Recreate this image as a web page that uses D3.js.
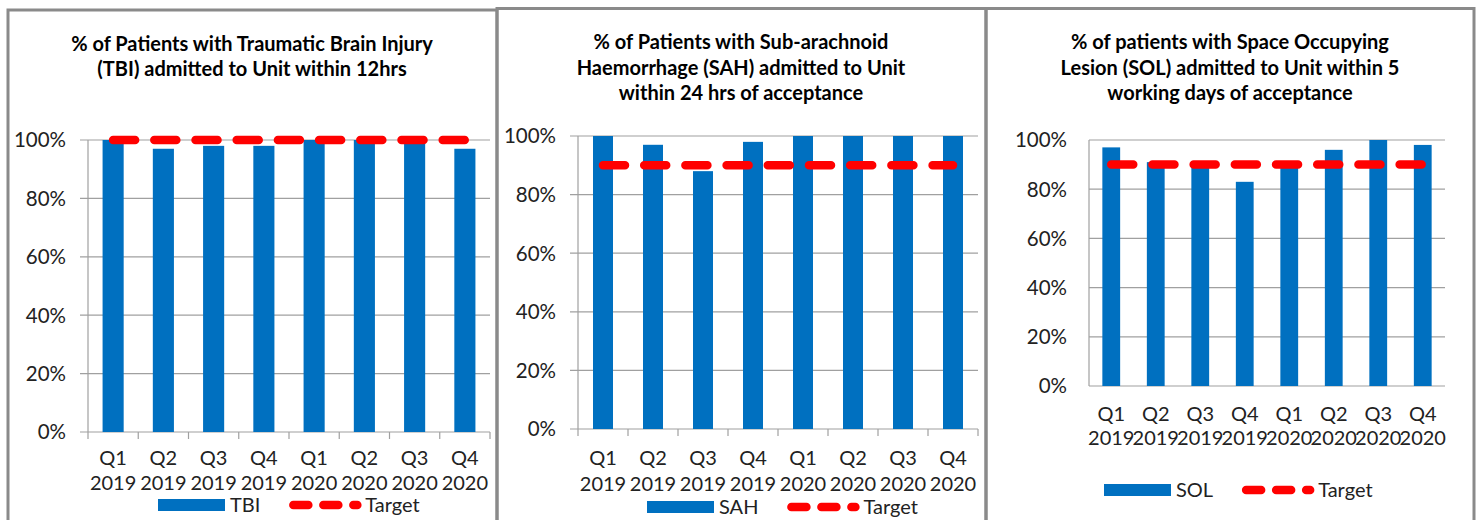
<!DOCTYPE html>
<html>
<head>
<meta charset="utf-8">
<script src="https://cdn.jsdelivr.net/npm/d3@7"></script>
<style>
  html, body { margin: 0; padding: 0; background: #fff; }
  svg { display: block; font-family: Lato, "Liberation Sans", sans-serif; }
</style>
</head>
<body>
<div id="chart"></div>
<script>
// data
const quarters = ["Q1 2019", "Q2 2019", "Q3 2019", "Q4 2019", "Q1 2020", "Q2 2020", "Q3 2020", "Q4 2020"];
const tbiValues = [100, 97, 98, 98, 100, 100, 100, 97];
const sahValues = [100, 97, 88, 98, 100, 100, 100, 100];
const solValues = [97, 91, 91, 83, 90, 96, 100, 98];
const tbiTarget = 100;
const sahTarget = 90;
const solTarget = 90;
const yTicks = [0, 20, 40, 60, 80, 100];
const tbiTitle = ["% of Patients with Traumatic Brain Injury", "(TBI) admitted to Unit within 12hrs"];
const sahTitle = ["% of Patients with Sub-arachnoid", "Haemorrhage (SAH) admitted to Unit", "within 24 hrs of acceptance"];
const solTitle = ["% of patients with Space Occupying", "Lesion (SOL) admitted to Unit within 5", "working days of acceptance"];

const W = 1478, H = 520;
const BLUE = "#0070C0", RED = "#FF0000", GRID = "#A0A0A0", BORDER = "#8A8A8A";
const TICK_FONT = 20, TITLE_FONT = 20, LEGEND_FONT = 20;

const svg = d3.select("#chart").append("svg")
  .attr("width", W).attr("height", H);

// panel frames
const frame = svg.append("g").attr("fill", "none").attr("stroke", BORDER).attr("stroke-width", 3);
frame.append("path").attr("d", "M8,521V10H497V521");
frame.append("path").attr("d", "M497,521V8.5H986V521");
frame.append("path").attr("d", "M986,521V8.5H1474V521");

const panels = [
  { name: "TBI", values: tbiValues, target: tbiTarget, title: tbiTitle,
    cx: 252, titleY: [51, 76], left: 88, right: 490, top: 140, bottom: 432,
    pad: 0.58, ticks: true, labY: [465, 490], legX: 158, legY: 505 },
  { name: "SAH", values: sahValues, target: sahTarget, title: sahTitle,
    cx: 741, titleY: [49, 75, 100], left: 578, right: 978, top: 136, bottom: 429,
    pad: 0.6, ticks: true, labY: [465, 491], legX: 647, legY: 507 },
  { name: "SOL", values: solValues, target: solTarget, title: solTitle,
    cx: 1230, titleY: [49, 75, 100], left: 1089, right: 1445, top: 140, bottom: 386,
    pad: 0.6, ticks: false, labY: [421, 445], legX: 1104, legY: 490 }
];

panels.forEach(p => {
  const g = svg.append("g");

  const x = d3.scaleBand().domain(quarters)
    .range([p.left, p.right]).paddingInner(p.pad).paddingOuter(p.pad / 2);
  const y = d3.scaleLinear().domain([0, 100]).range([p.bottom, p.top]);

  // title
  g.append("text")
    .attr("text-anchor", "middle").attr("font-weight", "bold")
    .attr("font-size", TITLE_FONT).attr("fill", "#000")
    .selectAll("tspan").data(p.title).join("tspan")
    .attr("x", p.cx).attr("y", (d, i) => p.titleY[i]).text(d => d);

  // gridlines + y labels
  const tickLen = p.ticks ? 8 : 0;
  g.append("g").selectAll("line").data(yTicks).join("line")
    .attr("x1", p.left - tickLen).attr("x2", p.right)
    .attr("y1", d => y(d)).attr("y2", d => y(d))
    .attr("stroke", GRID).attr("stroke-width", 1.2);

  g.append("g").selectAll("text").data(yTicks).join("text")
    .attr("x", p.left - 22).attr("y", d => y(d))
    .attr("dy", "0.36em").attr("text-anchor", "end")
    .attr("font-size", TICK_FONT + 0.5).attr("fill", "#222")
    .text(d => d + "%");

  // y axis line
  g.append("line")
    .attr("x1", p.left).attr("x2", p.left).attr("y1", p.top).attr("y2", p.bottom)
    .attr("stroke", GRID).attr("stroke-width", 1.2);

  // x ticks at band boundaries
  if (p.ticks) {
    const step = x.step();
    const bounds = d3.range(quarters.length + 1).map(i => p.left + i * step);
    g.append("g").selectAll("line").data(bounds).join("line")
      .attr("x1", d => d).attr("x2", d => d)
      .attr("y1", p.bottom).attr("y2", p.bottom + 7)
      .attr("stroke", GRID).attr("stroke-width", 1.2);
  }

  // bars
  g.append("g").selectAll("rect").data(p.values).join("rect")
    .attr("x", (d, i) => x(quarters[i]))
    .attr("width", x.bandwidth())
    .attr("y", d => y(d))
    .attr("height", d => y(0) - y(d))
    .attr("fill", BLUE);

  // target line
  const line = d3.line()
    .x(d => x(d) + x.bandwidth() / 2)
    .y(() => y(p.target));
  g.append("path").datum(quarters)
    .attr("d", line)
    .attr("fill", "none").attr("stroke", RED).attr("stroke-width", 8.5)
    .attr("stroke-linecap", "round").attr("stroke-dasharray", "22,19.2");

  // x labels
  const lab = g.append("g").selectAll("text").data(quarters).join("text")
    .attr("text-anchor", "middle").attr("font-size", TICK_FONT).attr("fill", "#222");
  lab.append("tspan").attr("x", d => x(d) + x.bandwidth() / 2).attr("y", p.labY[0])
    .text(d => d.split(" ")[0]);
  lab.append("tspan").attr("x", d => x(d) + x.bandwidth() / 2).attr("y", p.labY[1])
    .text(d => d.split(" ")[1]);

  // legend
  const lg = g.append("g").attr("font-size", LEGEND_FONT).attr("fill", "#222");
  lg.append("rect").attr("x", p.legX).attr("y", p.legY - 6)
    .attr("width", 67).attr("height", 12).attr("fill", BLUE);
  const t1 = lg.append("text").attr("x", p.legX + 72).attr("y", p.legY).attr("dy", "0.36em").text(p.name);
  const w1 = t1.node().getComputedTextLength();
  const lx = p.legX + 72 + w1 + 33;
  lg.append("path").attr("d", `M${lx},${p.legY}H${lx + 64}`)
    .attr("stroke", RED).attr("stroke-width", 8.5).attr("fill", "none")
    .attr("stroke-linecap", "round").attr("stroke-dasharray", "15,15");
  lg.append("text").attr("x", lx + 72).attr("y", p.legY).attr("dy", "0.36em").text("Target");
});
</script>
</body>
</html>
